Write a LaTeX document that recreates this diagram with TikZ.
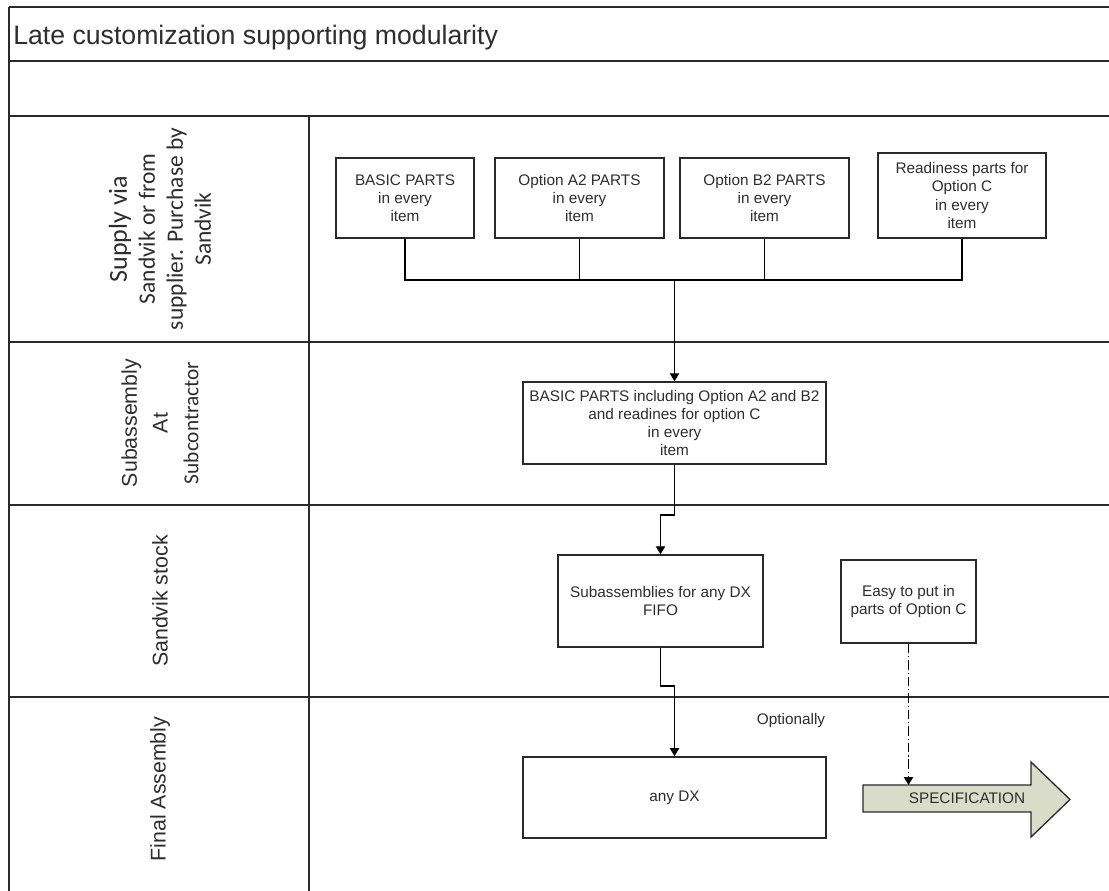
\documentclass[tikz,border=0pt]{standalone}
\usepackage{fontspec}
\usetikzlibrary{arrows.meta}
\newfontfamily\arialf{Liberation Sans}
\newfontfamily\calf{Carlito}
\definecolor{inkgray}{HTML}{2A2A2A}
\definecolor{textgray}{HTML}{2E2E2E}
\definecolor{specfill}{HTML}{D9DCC8}
\begin{document}
\begin{tikzpicture}[x=0.75pt,y=-0.75pt,
  frameline/.style={draw=inkgray,line width=1.5pt},
  box/.style={draw=inkgray,line width=1.1pt,fill=white,align=center,inner sep=0pt,
    text=textgray,font=\arialf\fontsize{11.5}{13.6}\selectfont},
  plaintext/.style={inner sep=0pt,text=textgray,font=\arialf\fontsize{11.5}{13.6}\selectfont},
  link/.style={draw=black,line width=1pt},
  flow/.style={link,-{Triangle[length=6pt,width=7pt]}},
  optflow/.style={flow,line width=0.8pt,dash pattern=on 7pt off 2.2pt on 1pt off 2.2pt},
  lanelabel/.style={rotate=90,align=center,inner sep=0pt,text=textgray}
]
% page
\fill[white] (0,0) rectangle (1109,890);
\useasboundingbox (0,0) rectangle (1109,890);
\clip (0,0) rectangle (1109,890);

% swimlane frame
\draw[frameline] (9,7) -- (1115,7);
\draw[frameline] (9,61) -- (1115,61);
\draw[frameline] (9,116) -- (1115,116);
\draw[frameline] (9,342) -- (1115,342);
\draw[frameline] (9,505) -- (1115,505);
\draw[frameline] (9,697) -- (1115,697);
\draw[frameline] (9,7) -- (9,900);
\draw[frameline] (309,116) -- (309,900);

% title
\node[anchor=base west,inner sep=0pt,text=textgray,font=\arialf\fontsize{20}{24}\selectfont]
  (title) at (13,44) {Late customization supporting modularity};

% lane labels
\node[lanelabel,font=\calf\fontsize{17.6}{21}\selectfont] (laneSupply) at (160,229)
  {{\fontsize{19.5}{21}\selectfont Supply via}\\Sandvik or from\\supplier. Purchase by\\Sandvik};
\node[lanelabel,font=\arialf\fontsize{16}{23}\selectfont] (laneSub) at (160,423)
  {Subassembly\\At\\{\calf\fontsize{16}{23}\selectfont Subcontractor}};
\node[lanelabel,font=\arialf\fontsize{16}{20}\selectfont] (laneStock) at (160,601) {Sandvik stock};
\node[lanelabel,font=\arialf\fontsize{16}{20}\selectfont] (laneFinal) at (160,789) {Final Assembly};

% supply lane
\node[box,minimum width=103.5pt,minimum height=60pt] (basic) at (405,198)
  {BASIC PARTS\\in every\\item};
\node[box,minimum width=126.75pt,minimum height=60pt] (optA) at (579.5,198)
  {Option A2 PARTS\\in every\\item};
\node[box,minimum width=126.75pt,minimum height=60pt] (optB) at (764.5,198)
  {Option B2 PARTS\\in every\\item};
\node[box,minimum width=126pt,minimum height=63.75pt] (ready) at (962,195.5)
  {Readiness parts for\\Option C\\in every\\item};

% subassembly lane
\node[box,minimum width=227.25pt,minimum height=61.5pt] (sub) at (674.5,423)
  {BASIC PARTS including Option A2 and B2\\and readines for option C\\in every\\item};

% stock lane
\node[box,minimum width=153.75pt,minimum height=69pt] (stock) at (660.5,601)
  {Subassemblies for any DX\\FIFO};
\node[box,minimum width=101.25pt,minimum height=62.25pt] (easy) at (908.5,601.5)
  {Easy to put in\\parts of Option C};

% final assembly lane
\node[box,minimum width=227.25pt,minimum height=61pt] (final) at (674.5,797.5) {any DX};
\node[plaintext] (optional) at (791,721) {Optionally};

% specification arrow
\filldraw[fill=specfill,draw=inkgray,line width=1pt,line join=miter]
  (863,785) -- (1031,785) -- (1031,762) -- (1070,799.5) -- (1031,837)
  -- (1031,812) -- (863,812) -- cycle;
\node[plaintext] (spec) at (967,798.5) {SPECIFICATION};
\coordinate (spectop) at (908.5,785);

% connectors
\coordinate (bus) at (674.5,280);
\draw[link] (basic.south) -- (basic.south |- bus) -- (ready.south |- bus) -- (ready.south);
\draw[link] (optA.south) -- (optA.south |- bus);
\draw[link] (optB.south) -- (optB.south |- bus);
\draw[flow] (bus) -- (sub.north);

\coordinate (jogA) at (0,515);
\draw[flow] (sub.south) -- (sub.south |- jogA) -- (stock.north |- jogA) -- (stock.north);
\coordinate (jogB) at (0,686);
\draw[flow] (stock.south) -- (stock.south |- jogB) -- (final.north |- jogB) -- (final.north);

\draw[optflow] (easy.south) -- (spectop);
\end{tikzpicture}
\end{document}
